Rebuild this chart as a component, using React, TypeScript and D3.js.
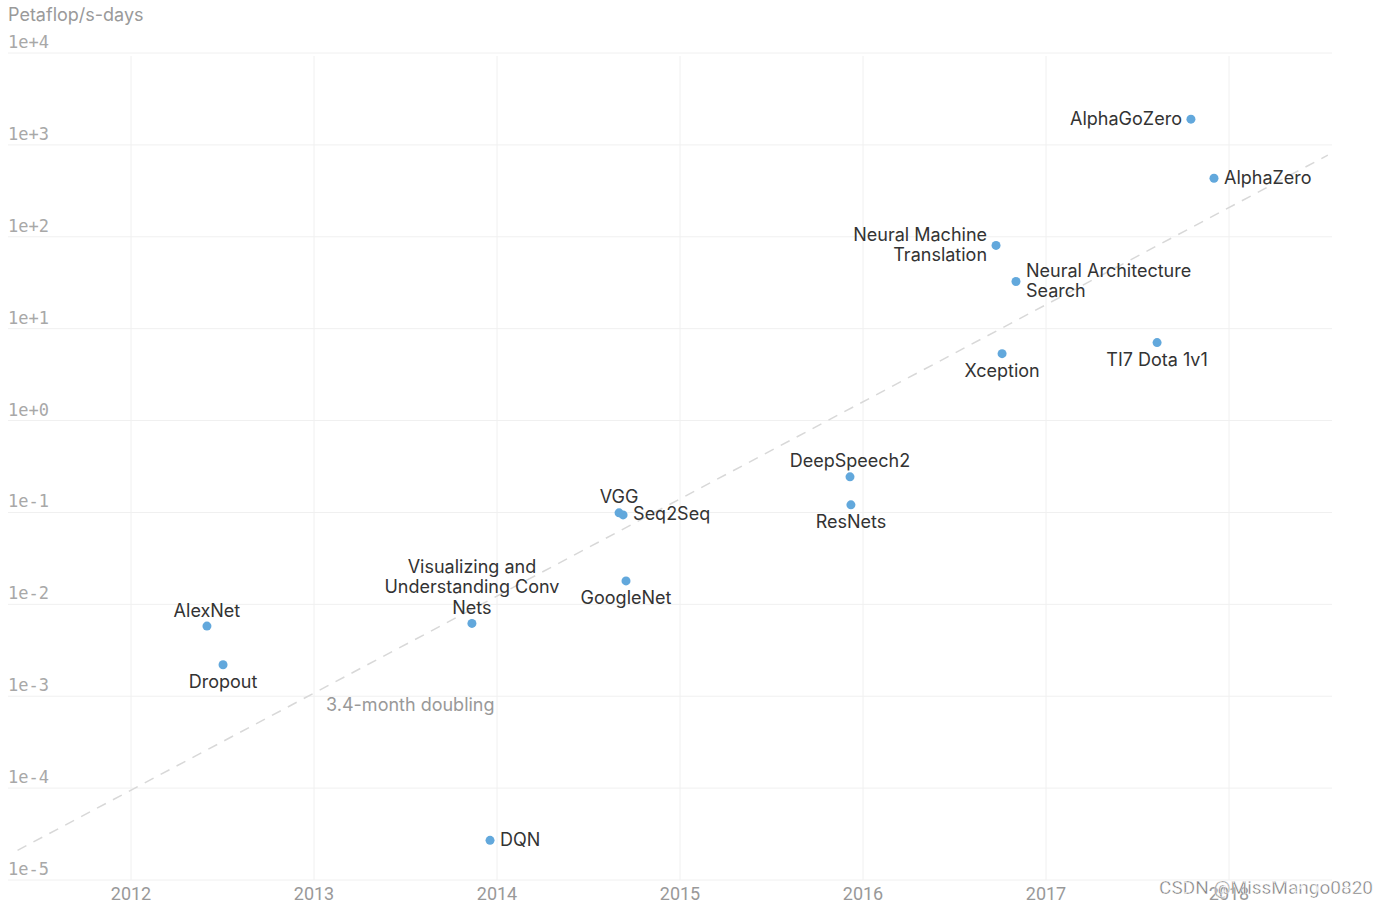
import React from 'react';
import * as d3 from 'd3';

// y axis: compute in petaflop/s-days, log scale
const title = 'Petaflop/s-days';
const yTicks = [1e-5, 1e-4, 1e-3, 1e-2, 1e-1, 1e0, 1e1, 1e2, 1e3, 1e4];
const yTickLabels = ['1e-5', '1e-4', '1e-3', '1e-2', '1e-1', '1e+0', '1e+1', '1e+2', '1e+3', '1e+4'];
const xTicks = [2012, 2013, 2014, 2015, 2016, 2017, 2018];

const models = [
  'AlexNet', 'Dropout', 'DQN', 'Visualizing and\nUnderstanding Conv\nNets', 'VGG', 'Seq2Seq',
  'GoogleNet', 'DeepSpeech2', 'ResNets', 'Neural Machine\nTranslation', 'Neural Architecture\nSearch',
  'Xception', 'TI7 Dota 1v1', 'AlphaGoZero', 'AlphaZero'
];
const years = [
  2012.415, 2012.503, 2013.962, 2013.863, 2014.667, 2014.689,
  2014.705, 2015.929, 2015.934, 2016.727, 2016.836,
  2016.760, 2017.607, 2017.792, 2017.918
];
const petaflopDays = [
  5.8e-3, 2.2e-3, 2.7e-5, 6.2e-3, 0.099, 0.094,
  0.018, 0.244, 0.121, 80.5, 32.6,
  5.35, 7.05, 1905, 433
];
const labelSide = [
  'top', 'bottom', 'right', 'top', 'top', 'right',
  'bottom', 'top', 'bottom', 'left', 'right',
  'bottom', 'bottom', 'left', 'right'
];

// dashed trend line, 3.4-month doubling
const trendYears = [2011.38, 2018.54];
const trendValues = [2.1e-5, 773];
const trendLabel = '3.4-month doubling';
const trendLabelAt = [2013.066, 8.2e-4];

const watermark = 'CSDN @MissMango0820';

const W = 1388, H = 906;
const labelFont = 'Inter, "Noto Sans", sans-serif';
const LINE = 20.5;

export default function App() {
  const x = d3.scaleLinear().domain([2012, 2018]).range([131, 1229]);
  const y = d3.scaleLog().domain([1e-5, 1e4]).range([880, 53]);

  const trend = d3.line<number>()
    .x((d, i) => x(trendYears[i]))
    .y((d) => y(d))(trendValues);

  const renderLabel = (name: string, i: number) => {
    const px = x(years[i]);
    const py = y(petaflopDays[i]);
    const lines = name.split('\n');
    const side = labelSide[i];
    let tx = px, anchor = 'middle', firstY = py;
    if (side === 'top') {
      firstY = py - 16 - (lines.length - 1) * LINE;
    } else if (side === 'bottom') {
      firstY = py + 17;
    } else if (side === 'left') {
      tx = px - 9; anchor = 'end';
      firstY = py - ((lines.length - 1) * LINE) / 2 - 1;
    } else {
      tx = px + 10; anchor = 'start';
      firstY = py - ((lines.length - 1) * LINE) / 2 - 1;
    }
    return (
      <text key={'l' + i} x={tx} textAnchor={anchor} fontFamily={labelFont} fontSize={18} fill="#333">
        {lines.map((ln, k) => (
          <tspan key={k} x={tx} y={firstY + k * LINE} dominantBaseline="central">{ln}</tspan>
        ))}
      </text>
    );
  };

  return (
    <svg width={W} height={H} style={{ display: 'block', background: '#fff' }}>
      <style>{`body{margin:0}`}</style>
      <rect width={W} height={H} fill="#fff" />

      {/* grid */}
      <g stroke="#f0f0f0" strokeWidth={1}>
        {yTicks.map((t) => (
          <line key={'h' + t} x1={8} x2={1332} y1={y(t)} y2={y(t)} />
        ))}
        {xTicks.map((t) => (
          <line key={'v' + t} x1={x(t)} x2={x(t)} y1={56} y2={880} />
        ))}
      </g>

      <text x={8} y={14} dominantBaseline="central" fontFamily={labelFont} fontSize={18} fill="#9a9a9a">{title}</text>

      {yTicks.map((t, i) => (
        <text key={'yt' + t} x={8} y={y(t) - 11} dominantBaseline="central"
          fontFamily='"DejaVu Sans Mono", monospace' fontSize={17} fill="#a8a8a8">{yTickLabels[i]}</text>
      ))}
      {xTicks.map((t) => (
        <text key={'xt' + t} x={x(t)} y={893} dominantBaseline="central" textAnchor="middle"
          fontFamily="Roboto, sans-serif" fontSize={18} fill="#999">{t}</text>
      ))}

      <path d={trend || ''} fill="none" stroke="#d8d8d8" strokeWidth={1.5} strokeDasharray="10,8" />
      <text x={x(trendLabelAt[0])} y={y(trendLabelAt[1])} dominantBaseline="central"
        fontFamily={labelFont} fontSize={18} fill="#999">{trendLabel}</text>

      {models.map((m, i) => (
        <circle key={'c' + i} cx={x(years[i])} cy={y(petaflopDays[i])} r={4.5} fill="#62a8dc" />
      ))}
      {models.map(renderLabel)}

      <text x={1373} y={887} textAnchor="end" dominantBaseline="central"
        fontFamily="Roboto, sans-serif" fontSize={19} fill="#777" stroke="#fff" strokeWidth={0.5}>{watermark}</text>
    </svg>
  );
}
